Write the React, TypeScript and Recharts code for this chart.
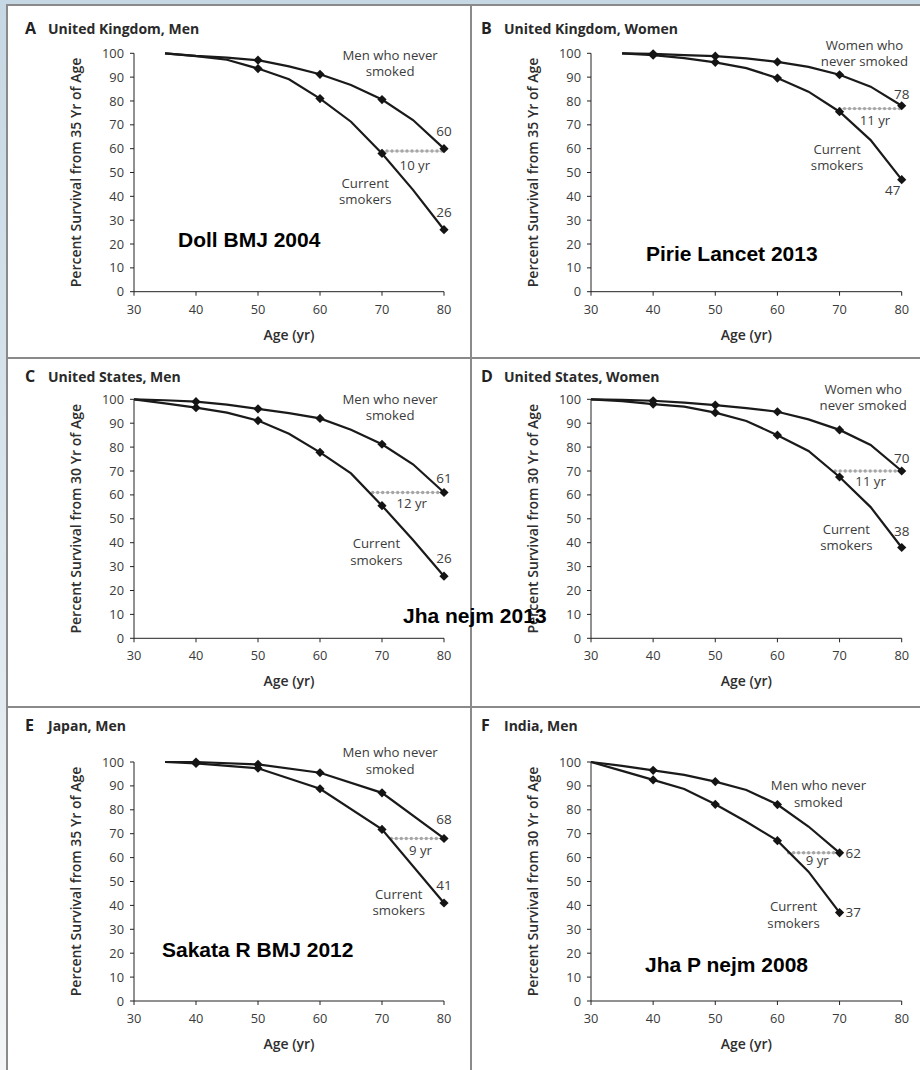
import React from 'react';
import { LineChart, Line, XAxis, YAxis, ReferenceLine, ReferenceDot } from 'recharts';

const FONT = "'Open Sans', 'Noto Sans', sans-serif";
const SRC_FONT = "'Liberation Sans', Arial, sans-serif";

const xTicks = [30, 40, 50, 60, 70, 80];
const yTicks = [0, 10, 20, 30, 40, 50, 60, 70, 80, 90, 100];

// A  United Kingdom, men
const agesA = [35, 40, 45, 50, 55, 60, 65, 70, 75, 80];
const neverA = [100, 98.9, 98.2, 97.1, 94.5, 91.2, 86.7, 80.6, 72.0, 60];
const smokersA = [100, 98.8, 97.3, 93.6, 89.1, 81.0, 71.3, 58.0, 42.7, 26];
const dotsA = [50, 60, 70, 80];

// B  United Kingdom, women
const agesB = [35, 40, 45, 50, 55, 60, 65, 70, 75, 80];
const neverB = [100, 99.8, 99.2, 98.8, 97.9, 96.4, 94.3, 91.0, 86.0, 78];
const smokersB = [100, 99.2, 98.0, 96.2, 93.8, 89.6, 83.9, 75.5, 63.6, 47];
const dotsB = [40, 50, 60, 70, 80];

// C  United States, men
const agesC = [30, 35, 40, 45, 50, 55, 60, 65, 70, 75, 80];
const neverC = [100, 99.6, 99.0, 97.8, 96.0, 94.2, 92.0, 87.3, 81.2, 72.8, 61];
const smokersC = [100, 98.3, 96.5, 94.4, 91.1, 85.6, 77.8, 69.0, 55.5, 41.1, 26];
const dotsC = [40, 50, 60, 70, 80];

// D  United States, women
const agesD = [30, 35, 40, 45, 50, 55, 60, 65, 70, 75, 80];
const neverD = [100, 99.8, 99.4, 98.6, 97.6, 96.3, 94.8, 91.6, 87.2, 80.9, 70];
const smokersD = [100, 99.2, 98.0, 96.9, 94.4, 90.9, 85.0, 78.4, 67.5, 54.9, 38];
const dotsD = [40, 50, 60, 70, 80];

// E  Japan, men
const agesE = [35, 40, 50, 60, 70, 80];
const neverE = [100, 100, 99.0, 95.5, 87.1, 68];
const smokersE = [100, 99.4, 97.4, 88.8, 71.8, 41];
const dotsE = [40, 50, 60, 70, 80];

// F  India, men
const agesF = [30, 35, 40, 45, 50, 55, 60, 65, 70];
const neverF = [100, 98.4, 96.5, 94.6, 91.8, 88.3, 82.2, 73.0, 62];
const smokersF = [100, 96.3, 92.5, 88.7, 82.3, 75.0, 67.1, 54.1, 37];
const dotsF = [40, 50, 60, 70];

const letters = ['A', 'B', 'C', 'D', 'E', 'F'];
const titles = [
  'United Kingdom, Men',
  'United Kingdom, Women',
  'United States, Men',
  'United States, Women',
  'Japan, Men',
  'India, Men',
];
const startAges = [35, 35, 30, 30, 35, 30];
const neverNames = [
  ['Men who never', 'smoked'],
  ['Women who', 'never smoked'],
  ['Men who never', 'smoked'],
  ['Women who', 'never smoked'],
  ['Men who never', 'smoked'],
  ['Men who never', 'smoked'],
];
const smokerName = ['Current', 'smokers'];
const gapLabels = ['10 yr', '11 yr', '12 yr', '11 yr', '9 yr', '9 yr'];
const gapLevels = [59, 76.8, 61, 70, 68, 62];
const gapStarts = [70, 70, 68.5, 69.3, 71.5, 61.8];
const gapEnds = [80, 80, 80, 80, 80, 70];
const sources = ['Doll BMJ 2004', 'Pirie Lancet 2013', 'Jha nejm 2013', 'Sakata R BMJ 2012', 'Jha P nejm 2008'];

const series = [
  { ages: agesA, never: neverA, smokers: smokersA, dots: dotsA },
  { ages: agesB, never: neverB, smokers: smokersB, dots: dotsB },
  { ages: agesC, never: neverC, smokers: smokersC, dots: dotsC },
  { ages: agesD, never: neverD, smokers: smokersD, dots: dotsD },
  { ages: agesE, never: neverE, smokers: smokersE, dots: dotsE },
  { ages: agesF, never: neverF, smokers: smokersF, dots: dotsF },
];

// layout (page pixels)
const COLS = [
  { left: 0, width: 462, mLeft: 94, mRight: 18, labelX: 76, letterX: 25, titleX: 48, plotL: 134, plotR: 444 },
  { left: 460, width: 460, mLeft: 91, mRight: 18.3, labelX: 533, letterX: 481, titleX: 504, plotL: 591, plotR: 901.7 },
];
const ROWS = [
  { top: 0, height: 350, plotTop: 53.3, plotBottom: 291.7, titleY: 34 },
  { top: 358, height: 350, plotTop: 399.3, plotBottom: 638.3, titleY: 382 },
  { top: 708, height: 360, plotTop: 762, plotBottom: 1001, titleY: 731 },
];

// annotation anchors in data units, end-label offsets in px
const NOTES = [
  { never: [71.3, 99.3], smoker: [67.3, 45.6], gap: [75.3, 53.1], nEnd: [0, -17, 'middle'], sEnd: [0, -17, 'middle'] },
  { never: [74.0, 103.5], smoker: [69.6, 59.9], gap: [75.7, 72.0], nEnd: [0, -11, 'middle'], sEnd: [-9, 11, 'middle'] },
  { never: [71.3, 100.1], smoker: [69.1, 39.7], gap: [74.8, 56.5], nEnd: [0, -14, 'middle'], sEnd: [0, -18, 'middle'] },
  { never: [73.8, 104.3], smoker: [71.1, 45.7], gap: [75.0, 65.8], nEnd: [0, -13, 'middle'], sEnd: [0, -16, 'middle'] },
  { never: [71.3, 104.1], smoker: [72.7, 44.8], gap: [76.2, 63.2], nEnd: [0, -19, 'middle'], sEnd: [0, -18, 'middle'] },
  { never: [66.6, 90.1], smoker: [62.6, 39.5], gap: [66.4, 58.7], nEnd: [6, 0, 'start'], sEnd: [6, 0, 'start'] },
];

function diamond(dots: number[]) {
  return (p: any) => {
    const { cx, cy, payload, index } = p;
    if (cx == null || !dots.includes(payload.age)) return <g key={`n${index}`} />;
    const r = 4.6;
    return (
      <polygon
        key={`d${index}`}
        points={`${cx},${cy - r} ${cx + r},${cy} ${cx},${cy + r} ${cx - r},${cy}`}
        fill="#141414"
      />
    );
  };
}

function textShape(lines: string[], dx = 0, dy = 0, anchor = 'middle', size = 13.2) {
  return (p: any) => (
    <text
      x={p.cx + dx}
      y={p.cy + dy}
      textAnchor={anchor}
      fontSize={size}
      fill="#3c3c3c"
      fontFamily={FONT}
    >
      {lines.map((l, k) => (
        <tspan key={k} x={p.cx + dx} dy={k === 0 ? '0.35em' : 16.7}>
          {l}
        </tspan>
      ))}
    </text>
  );
}

function Panel({ i }: { i: number }) {
  const col = COLS[i % 2];
  const row = ROWS[Math.floor(i / 2)];
  const s = series[i];
  const n = NOTES[i];
  const last = s.ages.length - 1;
  const data = s.ages.map((age, k) => ({ age, never: s.never[k], smokers: s.smokers[k] }));
  const margin = {
    top: row.plotTop - row.top,
    bottom: row.top + row.height - row.plotBottom - 30,
    left: col.mLeft,
    right: col.mRight,
  };
  const seg = [
    { x: gapStarts[i], y: gapLevels[i] },
    { x: gapEnds[i], y: gapLevels[i] },
  ];

  return (
    <div style={{ position: 'absolute', left: col.left, top: row.top }}>
      <LineChart width={col.width} height={row.height} data={data} margin={margin}>
        <XAxis
          dataKey="age"
          type="number"
          domain={[30, 80]}
          ticks={xTicks}
          interval={0}
          height={30}
          tickSize={4}
          tickMargin={9}
          stroke="#222"
          tick={{ fill: '#3a3a3a', fontSize: 12.8, fontFamily: FONT }}
        />
        <YAxis
          type="number"
          domain={[0, 100]}
          ticks={yTicks}
          interval={0}
          width={40}
          tickSize={4}
          tickMargin={6}
          stroke="#222"
          tick={{ fill: '#3a3a3a', fontSize: 12.8, fontFamily: FONT }}
        />
        <ReferenceLine segment={seg} stroke="#cfcfcf" strokeWidth={1.2} ifOverflow="visible" />
        <ReferenceLine
          segment={seg}
          stroke="#a6a6a6"
          strokeWidth={3.4}
          strokeDasharray="0 5"
          strokeLinecap="round"
          ifOverflow="visible"
        />
        <Line
          dataKey="never"
          type="linear"
          stroke="#1a1a1a"
          strokeWidth={2.2}
          dot={diamond(s.dots)}
          activeDot={false}
          isAnimationActive={false}
        />
        <Line
          dataKey="smokers"
          type="linear"
          stroke="#1a1a1a"
          strokeWidth={2.2}
          dot={diamond(s.dots)}
          activeDot={false}
          isAnimationActive={false}
        />
        <ReferenceDot
          x={n.never[0]}
          y={n.never[1]}
          ifOverflow="visible"
          shape={textShape(neverNames[i])}
        />
        <ReferenceDot
          x={n.smoker[0]}
          y={n.smoker[1]}
          ifOverflow="visible"
          shape={textShape(smokerName)}
        />
        <ReferenceDot x={n.gap[0]} y={n.gap[1]} ifOverflow="visible" shape={textShape([gapLabels[i]])} />
        <ReferenceDot
          x={s.ages[last]}
          y={s.never[last]}
          ifOverflow="visible"
          shape={textShape([String(s.never[last])], n.nEnd[0] as number, n.nEnd[1] as number, n.nEnd[2] as string, 13.5)}
        />
        <ReferenceDot
          x={s.ages[last]}
          y={s.smokers[last]}
          ifOverflow="visible"
          shape={textShape([String(s.smokers[last])], n.sEnd[0] as number, n.sEnd[1] as number, n.sEnd[2] as string, 13.5)}
        />
      </LineChart>
    </div>
  );
}

export default function App() {
  const panels = [0, 1, 2, 3, 4, 5];
  const srcPos = [
    [178, 247],
    [646, 261],
    [403, 623],
    [162, 957],
    [645, 972],
  ];

  return (
    <div
      style={{
        position: 'absolute',
        left: 0,
        top: 0,
        width: 920,
        height: 1070,
        overflow: 'hidden',
        background: 'linear-gradient(#c6d8e4, #dbe6ed 50%, #f3f5f6)',
      }}
    >
      <div
        style={{
          position: 'absolute',
          left: 6,
          top: 4,
          width: 920,
          height: 1070,
          background: '#fff',
          borderLeft: '2px solid #8a8a8a',
          borderTop: '2px solid #8a8a8a',
        }}
      />
      <div style={{ position: 'absolute', left: 470, top: 4, width: 2, height: 1070, background: '#8a8a8a' }} />
      <div style={{ position: 'absolute', left: 6, top: 357, width: 920, height: 2, background: '#8a8a8a' }} />
      <div style={{ position: 'absolute', left: 6, top: 706, width: 920, height: 2, background: '#8a8a8a' }} />

      {panels.map((i) => (
        <Panel key={i} i={i} />
      ))}

      <svg
        width={920}
        height={1070}
        style={{ position: 'absolute', left: 0, top: 0, pointerEvents: 'none' }}
      >
        {panels.map((i) => {
          const col = COLS[i % 2];
          const row = ROWS[Math.floor(i / 2)];
          const midY = (row.plotTop + row.plotBottom) / 2;
          return (
            <g key={i} fontFamily={FONT}>
              <text x={col.letterX} y={row.titleY} fontSize={16} fontWeight={700} fill="#222">
                {letters[i]}
              </text>
              <text x={col.titleX} y={row.titleY} fontSize={14} fontWeight={700} fill="#2a2a2a">
                {titles[i]}
              </text>
              <text
                transform={`translate(${col.labelX},${midY}) rotate(-90)`}
                textAnchor="middle"
                dy="0.35em"
                fontSize={14}
                fontWeight={600}
                fill="#2e2e2e"
              >
                {`Percent Survival from ${startAges[i]} Yr of Age`}
              </text>
              <text
                x={(col.plotL + col.plotR) / 2}
                y={row.plotBottom + 43}
                dy="0.35em"
                textAnchor="middle"
                fontSize={14}
                fontWeight={600}
                fill="#2e2e2e"
              >
                Age (yr)
              </text>
            </g>
          );
        })}
        {sources.map((t, k) => (
          <text
            key={t}
            x={srcPos[k][0]}
            y={srcPos[k][1]}
            fontFamily={SRC_FONT}
            fontWeight={700}
            fontSize={21}
            fill="#000"
          >
            {t}
          </text>
        ))}
      </svg>
    </div>
  );
}
